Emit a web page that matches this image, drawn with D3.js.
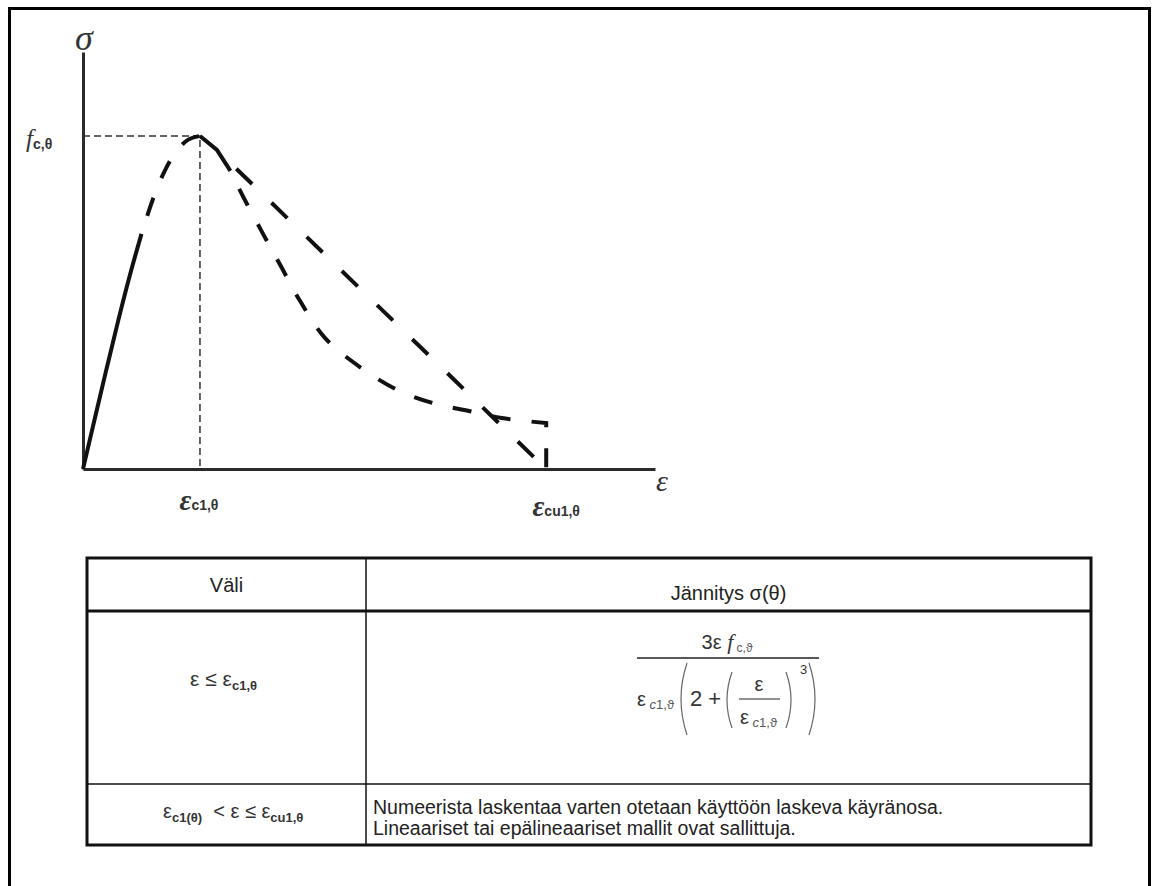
<!DOCTYPE html>
<html>
<head>
<meta charset="utf-8">
<script src="https://cdn.jsdelivr.net/npm/d3@7"></script>
<style>
  body { margin: 0; background: #fff; }
  svg { display: block; }
  text { white-space: pre; }
</style>
</head>
<body>
<script>
// Normalised strain (ε / εc1,θ) and stress (σ / fc,θ) of the concrete stress–strain diagram
const ascStrain = [0, 0.1, 0.2, 0.3, 0.4, 0.5, 0.6, 0.7, 0.8, 0.9, 1.0];
const ascStress = [0, 0.150, 0.299, 0.444, 0.581, 0.706, 0.812, 0.896, 0.955, 0.989, 1.0];
const solidUntil = 0.5;               // ascending branch drawn solid up to this strain

// short common stretch just after the peak
const peakStrain = [1.0, 1.145, 1.26];
const peakStress = [1.0, 0.958, 0.895];

// descending branch, linear model
const linStrain = [1.145, 3.96];
const linStress = [0.958, 0];

// descending branch, non-linear model
const curStrain = [1.26, 1.37, 1.53, 1.69, 1.86, 2.07, 2.38, 2.69, 2.99, 3.30, 3.58, 3.96, 3.96];
const curStress = [0.895, 0.817, 0.712, 0.610, 0.502, 0.393, 0.303, 0.237, 0.198, 0.174, 0.153, 0.138, 0];

const epsC1 = 1.0, epsCu1 = 3.96, fcTheta = 1.0;
const strainMax = 4.89, stressMax = 1.252;

// table contents
const headerTexts = ["Väli", "Jännitys σ(θ)"];
const rangeRow2 = "Numeerista laskentaa varten otetaan käyttöön laskeva käyränosa.";
const rangeRow2b = "Lineaariset tai epälineaariset mallit ovat sallittuja.";

const W = 1152, H = 886;
const svg = d3.select("body").append("svg").attr("width", W).attr("height", H);
svg.append("rect").attr("width", W).attr("height", H).attr("fill", "#fff");

// page frame (open at the bottom)
svg.append("path")
  .attr("d", `M9.5,${H} V8.5 H1149.5 V${H}`)
  .attr("fill", "none").attr("stroke", "#000").attr("stroke-width", 3);

const x = d3.scaleLinear().domain([0, strainMax]).range([83, 655]);
const y = d3.scaleLinear().domain([0, stressMax]).range([469, 52]);

const serif = "'Liberation Serif', 'DejaVu Serif', serif";
const sans = "'Liberation Sans', Arial, sans-serif";

// axes: plain lines without ticks
const gx = svg.append("g").attr("transform", `translate(0,${y(0)})`)
  .call(d3.axisBottom(x).tickValues([]).tickSizeOuter(0));
const gy = svg.append("g").attr("transform", `translate(${x(0)},0)`)
  .call(d3.axisLeft(y).tickValues([]).tickSizeOuter(0));
[gx, gy].forEach(g => g.select(".domain").attr("stroke", "#2a2a2a").attr("stroke-width", 3));

// guide lines to the peak
svg.append("path")
  .attr("d", `M${x(0)},${y(fcTheta)} H${x(epsC1)} V${y(0)}`)
  .attr("fill", "none").attr("stroke", "#333").attr("stroke-width", 1.5)
  .attr("stroke-dasharray", "7,4");

const pts = (xs, ys) => xs.map((v, i) => [x(v), y(ys[i])]);
const smooth = d3.line().curve(d3.curveCatmullRom.alpha(0.5));
const straight = d3.line();

const asc = pts(ascStrain, ascStress);
const solidPart = asc.filter((p, i) => ascStrain[i] <= solidUntil);
const dashPart = asc.filter((p, i) => ascStrain[i] >= solidUntil);

const ink = "#111";
const curveStyle = (sel, dash, offset) => sel
  .attr("fill", "none").attr("stroke", ink).attr("stroke-width", 4)
  .attr("stroke-dasharray", dash).attr("stroke-dashoffset", offset);

curveStyle(svg.append("path").attr("d", smooth(solidPart)), null, 0);
curveStyle(svg.append("path").attr("d", smooth(dashPart)), "19,21", 21);
curveStyle(svg.append("path").attr("d", straight(pts(peakStrain, peakStress))), null, 0);
curveStyle(svg.append("path").attr("d", straight(pts(linStrain, linStress))), "22,27", 22);
const cur = pts(curStrain, curStress);
curveStyle(svg.append("path")
  .attr("d", smooth(cur.slice(0, -1)) + "L" + cur[cur.length - 1].join(",")), "19,21", 20);

// axis labels
svg.append("text").attr("x", x(0) + 1).attr("y", y(stressMax) - 2)
  .attr("text-anchor", "middle").attr("font-family", serif).attr("font-style", "italic")
  .attr("font-size", 36).attr("fill", "#333").text("σ");
svg.append("text").attr("x", x(strainMax) + 7).attr("y", y(0) + 22)
  .attr("text-anchor", "middle").attr("font-family", serif).attr("font-style", "italic")
  .attr("font-size", 30).attr("fill", "#333").text("ε");

// f c,θ on the stress axis
const fl = svg.append("text").attr("x", 26).attr("y", y(fcTheta) + 11)
  .attr("fill", "#333");
fl.append("tspan").attr("font-family", serif).attr("font-style", "italic").attr("font-size", 25).text("f");
fl.append("tspan").attr("font-family", sans).attr("font-weight", "bold").attr("font-size", 14)
  .attr("dy", 2).text("c,θ");

// strain labels
function strainLabel(cx, base, sub) {
  const t = svg.append("text").attr("x", cx).attr("y", base)
    .attr("text-anchor", "middle").attr("fill", "#333");
  t.append("tspan").attr("font-family", serif).attr("font-style", "italic")
    .attr("font-weight", "bold").attr("font-size", 29).text("ε");
  t.append("tspan").attr("font-family", sans).attr("font-weight", "bold")
    .attr("font-size", 14).text(sub);
}
strainLabel(x(epsC1) - 1, 510, "c1,θ");
strainLabel(x(epsCu1) + 10, 516, "cu1,θ");

// ---- table ----
const tL = 87, tM = 366, tR = 1091;
const rTop = 558, rHead = 611, r1 = 784, rBot = 845;
const tbl = svg.append("g").attr("fill", "none").attr("stroke", "#111");
tbl.append("rect").attr("x", tL).attr("y", rTop).attr("width", tR - tL).attr("height", rBot - rTop)
  .attr("stroke-width", 3);
tbl.append("line").attr("x1", tL).attr("x2", tR).attr("y1", rHead).attr("y2", rHead).attr("stroke-width", 3);
tbl.append("line").attr("x1", tL).attr("x2", tR).attr("y1", r1).attr("y2", r1).attr("stroke-width", 1.5);
tbl.append("line").attr("x1", tM).attr("x2", tM).attr("y1", rTop).attr("y2", rBot).attr("stroke-width", 1.5);

svg.append("text").attr("x", (tL + tM) / 2).attr("y", 592).attr("text-anchor", "middle")
  .attr("font-family", sans).attr("font-size", 20).attr("fill", "#222").text(headerTexts[0]);
svg.append("text").attr("x", (tM + tR) / 2).attr("y", 600).attr("text-anchor", "middle")
  .attr("font-family", sans).attr("font-size", 20).attr("fill", "#222").text(headerTexts[1]);

// ranges in the first column
function mathText(x0, base, parts, size) {
  const t = svg.append("text").attr("x", x0).attr("y", base)
    .attr("font-family", sans).attr("fill", "#333").attr("font-size", size);
  let shift = 0;
  parts.forEach(p => {
    const s = t.append("tspan").text(p.t);
    const want = p.sub ? 4 : 0;
    s.attr("dy", want - shift); shift = want;
    if (p.sub) s.attr("font-size", 13).attr("font-weight", "bold");
  });
  return t;
}
mathText(190, 686, [{t: "ε ≤ ε"}, {t: "c1,θ", sub: true}], 21);
mathText(163, 818, [{t: "ε"}, {t: "c1(θ)", sub: true}, {t: "  < ε ≤ ε"}, {t: "cu1,θ", sub: true}], 20);

// row 1, expression
const fg = svg.append("g").attr("fill", "#333").attr("font-family", sans);
const num = fg.append("text").attr("x", 727).attr("y", 649).attr("text-anchor", "middle").attr("font-size", 20);
num.append("tspan").text("3ε ");
num.append("tspan").attr("font-family", serif).attr("font-style", "italic").attr("font-size", 22).text("f");
num.append("tspan").attr("font-size", 12).attr("dy", 3).attr("fill", "#555").text(" c,ϑ");
fg.append("line").attr("x1", 637).attr("x2", 819).attr("y1", 658).attr("y2", 658)
  .attr("stroke", "#222").attr("stroke-width", 1.5);

function epsSub(x0, base, anchor) {
  const t = fg.append("text").attr("x", x0).attr("y", base).attr("font-size", 20).attr("text-anchor", anchor);
  t.append("tspan").text("ε");
  t.append("tspan").attr("font-size", 13).attr("dy", 3).attr("fill", "#555")
    .html(' <tspan font-style="italic">c</tspan>1,ϑ');
}
epsSub(637, 706, "start");
fg.append("text").attr("x", 690).attr("y", 706).attr("font-size", 22).text("2 +");
fg.append("text").attr("x", 759).attr("y", 691).attr("font-size", 20).attr("text-anchor", "middle").text("ε");
fg.append("line").attr("x1", 739).attr("x2", 780).attr("y1", 699).attr("y2", 699)
  .attr("stroke", "#222").attr("stroke-width", 1.2);
epsSub(740, 724, "start");
fg.append("text").attr("x", 800).attr("y", 674).attr("font-size", 13).text("3");

const paren = d => fg.append("path").attr("d", d).attr("fill", "none")
  .attr("stroke", "#666").attr("stroke-width", 1.2);
paren("M687,663 Q675,699 687,735");
paren("M809,663 Q821,699 809,735");
paren("M732,672 Q722,700 732,728");
paren("M786,672 Q796,700 786,728");

// row 2, description
svg.append("text").attr("x", 373).attr("y", 814).attr("font-family", sans).attr("font-size", 19.5)
  .attr("fill", "#222").text(rangeRow2);
svg.append("text").attr("x", 373).attr("y", 835).attr("font-family", sans).attr("font-size", 19.5)
  .attr("fill", "#222").text(rangeRow2b);
</script>
</body>
</html>
